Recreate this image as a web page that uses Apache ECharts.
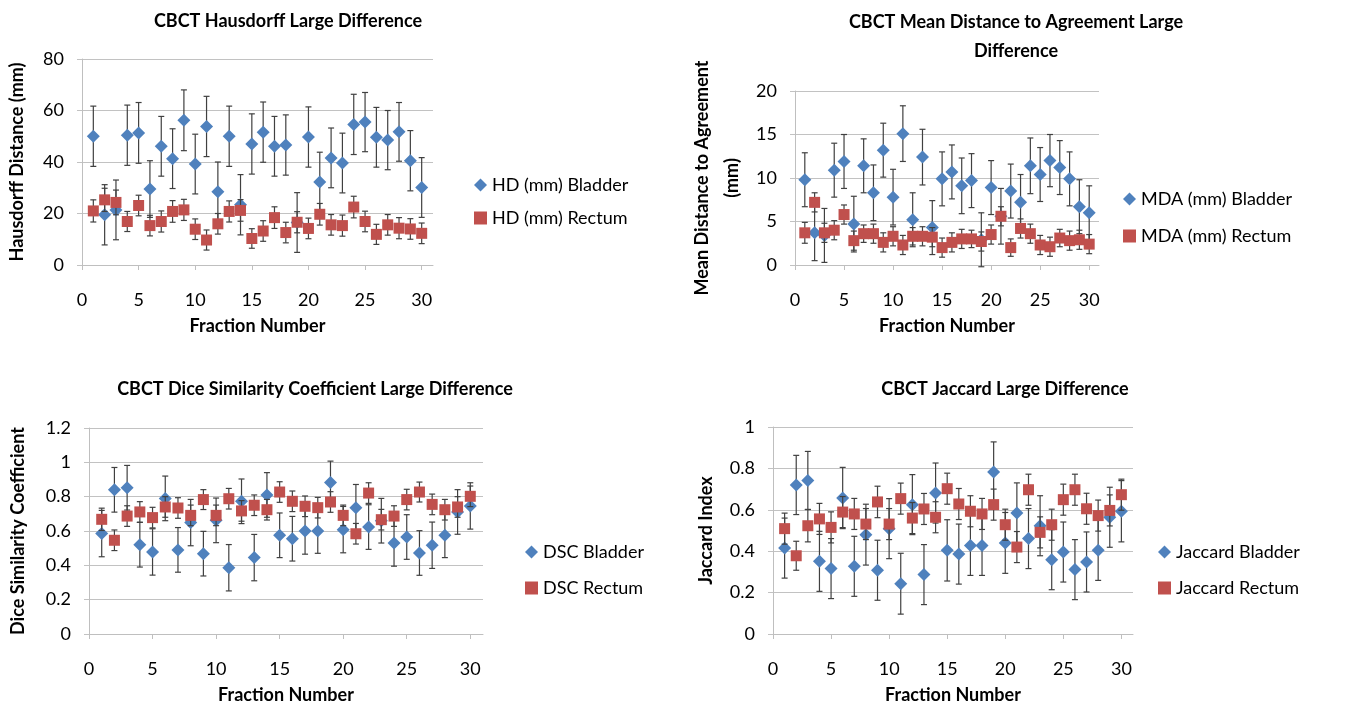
<!DOCTYPE html>
<html>
<head>
<meta charset="utf-8">
<script src="https://cdn.jsdelivr.net/npm/echarts@6/dist/echarts.min.js"></script>
<style>
  html, body { margin: 0; padding: 0; background: #fff; }
  #chart { width: 1354px; height: 710px; }
</style>
</head>
<body>
<div id="chart"></div>
<script>
// --- data ---
const fractions = [1, 2, 3, 4, 5, 6, 7, 8, 9, 10, 11, 12, 13, 14, 15, 16, 17, 18, 19, 20, 21, 22, 23, 24, 25, 26, 27, 28, 29, 30];
const xTicks = [0, 5, 10, 15, 20, 25, 30];

const hdBladder = [50.0, 19.5, 21.4, 50.4, 51.3, 29.5, 46.1, 41.3, 56.2, 39.2, 53.8, 28.4, 50.0, 23.4, 47.0, 51.6, 46.1, 46.6, 16.5, 49.7, 32.2, 41.6, 39.6, 54.6, 55.5, 49.6, 48.5, 51.7, 40.5, 30.1];
const hdBladderErr = [11.7, 11.7, 11.6, 11.7, 11.8, 11.0, 11.6, 11.6, 11.8, 11.6, 11.7, 11.6, 11.7, 11.7, 11.7, 11.7, 11.6, 11.7, 11.6, 11.7, 11.6, 11.6, 11.6, 11.7, 11.5, 11.6, 11.5, 11.4, 11.7, 11.6];
const hdRectum = [21.0, 25.3, 24.3, 16.9, 23.1, 15.3, 16.9, 20.8, 21.4, 13.9, 9.7, 16.0, 20.8, 21.2, 10.3, 13.2, 18.4, 12.6, 16.6, 14.2, 19.7, 15.6, 15.3, 22.5, 16.9, 11.9, 15.6, 14.3, 14.0, 12.3];
const hdRectumErr = [4.3, 4.5, 4.8, 3.9, 4.0, 4.0, 4.1, 4.2, 4.1, 4.0, 3.9, 4.0, 4.1, 4.2, 3.8, 4.0, 4.2, 4.0, 4.1, 4.0, 4.2, 4.0, 4.1, 4.2, 4.0, 3.9, 4.0, 4.1, 4.0, 4.0];

const mdaBladder = [9.8, 3.7, 3.4, 10.9, 11.9, 4.7, 11.4, 8.3, 13.2, 7.8, 15.1, 5.2, 12.4, 4.3, 9.9, 10.7, 9.1, 9.7, 2.9, 8.9, 5.6, 8.5, 7.2, 11.4, 10.4, 12.0, 11.2, 9.9, 6.7, 6.0];
const mdaBladderErr = [3.1, 3.2, 3.1, 3.1, 3.1, 3.2, 3.1, 3.2, 3.1, 3.2, 3.2, 3.1, 3.2, 3.1, 3.1, 3.1, 3.2, 3.1, 3.1, 3.1, 3.2, 3.1, 3.2, 3.2, 3.1, 3.0, 3.1, 3.1, 3.1, 3.1];
const mdaRectum = [3.7, 7.2, 3.7, 4.0, 5.8, 2.8, 3.6, 3.6, 2.6, 3.3, 2.3, 3.3, 3.3, 3.2, 2.0, 2.6, 3.0, 3.0, 2.7, 3.5, 5.6, 2.0, 4.2, 3.6, 2.3, 2.1, 3.1, 2.8, 2.9, 2.4];
const mdaRectumErr = [1.2, 1.1, 1.1, 1.1, 1.1, 1.1, 1.0, 1.1, 1.1, 1.1, 1.1, 1.0, 1.1, 1.1, 1.1, 1.1, 1.1, 1.0, 1.1, 1.1, 1.1, 1.0, 1.1, 1.1, 1.1, 1.1, 1.0, 1.1, 1.1, 1.1];

const dscBladder = [0.585, 0.84, 0.852, 0.52, 0.478, 0.79, 0.49, 0.649, 0.468, 0.662, 0.386, 0.773, 0.445, 0.81, 0.575, 0.555, 0.60, 0.60, 0.882, 0.608, 0.736, 0.623, 0.66, 0.53, 0.565, 0.472, 0.517, 0.575, 0.711, 0.746];
const dscBladderErr = [0.135, 0.13, 0.13, 0.13, 0.135, 0.13, 0.13, 0.135, 0.13, 0.13, 0.135, 0.13, 0.135, 0.13, 0.13, 0.13, 0.135, 0.13, 0.125, 0.135, 0.135, 0.13, 0.13, 0.135, 0.13, 0.13, 0.135, 0.13, 0.13, 0.135];
const dscRectum = [0.668, 0.546, 0.687, 0.711, 0.678, 0.74, 0.734, 0.691, 0.783, 0.691, 0.788, 0.717, 0.75, 0.724, 0.827, 0.773, 0.744, 0.736, 0.769, 0.691, 0.584, 0.821, 0.666, 0.687, 0.783, 0.827, 0.755, 0.724, 0.74, 0.802];
const dscRectumErr = [0.065, 0.06, 0.06, 0.06, 0.06, 0.06, 0.06, 0.06, 0.058, 0.06, 0.06, 0.06, 0.06, 0.06, 0.06, 0.06, 0.06, 0.06, 0.06, 0.06, 0.06, 0.06, 0.06, 0.06, 0.06, 0.058, 0.06, 0.06, 0.06, 0.06];

const jacBladder = [0.415, 0.72, 0.742, 0.351, 0.316, 0.657, 0.327, 0.48, 0.308, 0.509, 0.243, 0.625, 0.287, 0.681, 0.404, 0.386, 0.428, 0.428, 0.783, 0.44, 0.585, 0.461, 0.523, 0.359, 0.396, 0.311, 0.348, 0.404, 0.564, 0.593];
const jacBladderErr = [0.145, 0.143, 0.14, 0.145, 0.145, 0.148, 0.145, 0.147, 0.145, 0.145, 0.147, 0.145, 0.145, 0.145, 0.148, 0.145, 0.145, 0.145, 0.145, 0.147, 0.145, 0.145, 0.145, 0.145, 0.145, 0.145, 0.145, 0.145, 0.145, 0.148];
const jacRectum = [0.509, 0.378, 0.523, 0.556, 0.515, 0.589, 0.58, 0.531, 0.638, 0.531, 0.654, 0.56, 0.604, 0.564, 0.702, 0.628, 0.593, 0.58, 0.625, 0.528, 0.42, 0.697, 0.491, 0.528, 0.649, 0.697, 0.605, 0.572, 0.597, 0.673];
const jacRectumErr = [0.075, 0.07, 0.078, 0.075, 0.075, 0.075, 0.075, 0.075, 0.076, 0.075, 0.075, 0.075, 0.075, 0.075, 0.075, 0.075, 0.075, 0.075, 0.075, 0.075, 0.075, 0.075, 0.075, 0.075, 0.075, 0.075, 0.075, 0.075, 0.075, 0.075];

// --- styles ---
const FONT = 'Lato, "Open Sans", sans-serif';
const BLUE = '#4F81BD';
const RED = '#C0504D';
const GRID_COLOR = '#c2c2c2';

const myChart = echarts.init(document.getElementById('chart'), null, { renderer: 'canvas' });

const pairs = (ys) => fractions.map((x, i) => [x, ys[i]]);
const errPairs = (ys, es) => fractions.map((x, i) => [x, ys[i], es[i]]);

// error bar drawn through the axis scale
const renderErrorBar = (params, api) => {
    const x = api.value(0), y = api.value(1), e = api.value(2);
    const hi = api.coord([x, y + e]);
    const lo = api.coord([x, y - e]);
    const style = { stroke: '#404040', lineWidth: 1.2 };
    const cap = 3;
    return {
        type: 'group',
        children: [
            { type: 'line', shape: { x1: hi[0], y1: hi[1], x2: lo[0], y2: lo[1] }, style },
            { type: 'line', shape: { x1: hi[0] - cap, y1: hi[1], x2: hi[0] + cap, y2: hi[1] }, style },
            { type: 'line', shape: { x1: lo[0] - cap, y1: lo[1], x2: lo[0] + cap, y2: lo[1] }, style }
        ]
    };
};

const xAxisFor = (gridIndex, nameGap) => ({
    type: 'value', gridIndex, min: 0, max: 31, interval: 5,
    name: 'Fraction Number', nameLocation: 'middle', nameGap,
    nameTextStyle: { fontFamily: FONT, fontSize: 18, fontWeight: 'bold', color: '#000' },
    axisLine: { show: true, lineStyle: { color: '#bfbfbf', width: 1 } },
    axisTick: { show: true, length: 5, customValues: xTicks, lineStyle: { color: '#bfbfbf' } },
    axisLabel: {
        margin: 26, fontFamily: FONT, fontSize: 18, color: '#000', customValues: xTicks,
        formatter: (v) => (v % 5 === 0 ? String(v) : '')
    },
    splitLine: { show: false }
});

const yAxisFor = (gridIndex, max, interval, name, nameGap) => ({
    type: 'value', gridIndex, min: 0, max, interval,
    name, nameLocation: 'middle', nameGap, nameRotate: 90,
    nameTextStyle: { fontFamily: FONT, fontSize: 18, fontWeight: 'bold', color: '#000', lineHeight: 30 },
    axisLine: { show: true, lineStyle: { color: '#bfbfbf', width: 1 } },
    axisTick: { show: true, length: 5, lineStyle: { color: GRID_COLOR } },
    axisLabel: { margin: 18, fontFamily: FONT, fontSize: 18, color: '#000' },
    splitLine: { show: true, lineStyle: { color: GRID_COLOR, width: 1 } }
});

const seriesFor = (idx, names, bladder, bladderErr, rectum, rectumErr) => [
    {
        type: 'custom', name: names[0] + ' err', xAxisIndex: idx, yAxisIndex: idx,
        renderItem: renderErrorBar, data: errPairs(bladder, bladderErr), z: 1, silent: true
    },
    {
        type: 'scatter', name: names[0], xAxisIndex: idx, yAxisIndex: idx,
        symbol: 'diamond', symbolSize: 13, itemStyle: { color: BLUE, opacity: 1 },
        data: pairs(bladder), z: 2
    },
    {
        type: 'custom', name: names[1] + ' err', xAxisIndex: idx, yAxisIndex: idx,
        renderItem: renderErrorBar, data: errPairs(rectum, rectumErr), z: 3, silent: true
    },
    {
        type: 'scatter', name: names[1], xAxisIndex: idx, yAxisIndex: idx,
        symbol: 'rect', symbolSize: 11, itemStyle: { color: RED, opacity: 1 },
        data: pairs(rectum), z: 4
    }
];

const legendFor = (names, left, top, itemGap) => ({
    orient: 'vertical', left, top, itemGap,
    itemWidth: 13, itemHeight: 13,
    textStyle: { fontFamily: FONT, fontSize: 18, color: '#000' },
    data: [{ name: names[0], icon: 'diamond' }, { name: names[1], icon: 'rect' }]
});

const titleStyle = { fontFamily: FONT, fontSize: 18, fontWeight: 'bold', color: '#000', lineHeight: 29 };

const hdNames = ['HD (mm) Bladder', 'HD (mm) Rectum'];
const mdaNames = ['MDA (mm) Bladder', 'MDA (mm) Rectum'];
const dscNames = ['DSC Bladder', 'DSC Rectum'];
const jacNames = ['Jaccard Bladder', 'Jaccard Rectum'];

const option = {
    backgroundColor: '#fff',
    animation: false,
    title: [
        { text: 'CBCT Hausdorff Large Difference', left: 283, top: 2, textAlign: 'center', textStyle: titleStyle },
        { text: 'CBCT Mean Distance to Agreement Large\nDifference', left: 1011, top: 3, textAlign: 'center', textStyle: titleStyle },
        { text: 'CBCT Dice Similarity Coefficient Large Difference', left: 310, top: 370, textAlign: 'center', textStyle: titleStyle },
        { text: 'CBCT Jaccard Large Difference', left: 1000, top: 370, textAlign: 'center', textStyle: titleStyle }
    ],
    legend: [
        legendFor(hdNames, 469, 171, 15),
        legendFor(mdaNames, 1118, 185, 19),
        legendFor(dscNames, 520, 538, 18),
        legendFor(jacNames, 1153, 538, 18)
    ],
    grid: [
        { left: 82, top: 59, width: 351, height: 206 },
        { left: 795, top: 91, width: 304, height: 174 },
        { left: 89, top: 428, width: 394, height: 206 },
        { left: 773, top: 427, width: 360, height: 207 }
    ],
    xAxis: [xAxisFor(0, 52), xAxisFor(1, 52), xAxisFor(2, 52), xAxisFor(3, 52)],
    yAxis: [
        yAxisFor(0, 80, 20, 'Hausdorff Distance (mm)', 50),
        yAxisFor(1, 20, 5, 'Mean Distance to Agreement\n(mm)', 48),
        yAxisFor(2, 1.2, 0.2, 'Dice Similarity Coefficient', 56),
        yAxisFor(3, 1, 0.2, 'Jaccard Index', 52)
    ],
    series: [
        ...seriesFor(0, hdNames, hdBladder, hdBladderErr, hdRectum, hdRectumErr),
        ...seriesFor(1, mdaNames, mdaBladder, mdaBladderErr, mdaRectum, mdaRectumErr),
        ...seriesFor(2, dscNames, dscBladder, dscBladderErr, dscRectum, dscRectumErr),
        ...seriesFor(3, jacNames, jacBladder, jacBladderErr, jacRectum, jacRectumErr)
    ]
};

myChart.setOption(option);

window.addEventListener('resize', () => {
    myChart.resize();
});
</script>
</body>
</html>
